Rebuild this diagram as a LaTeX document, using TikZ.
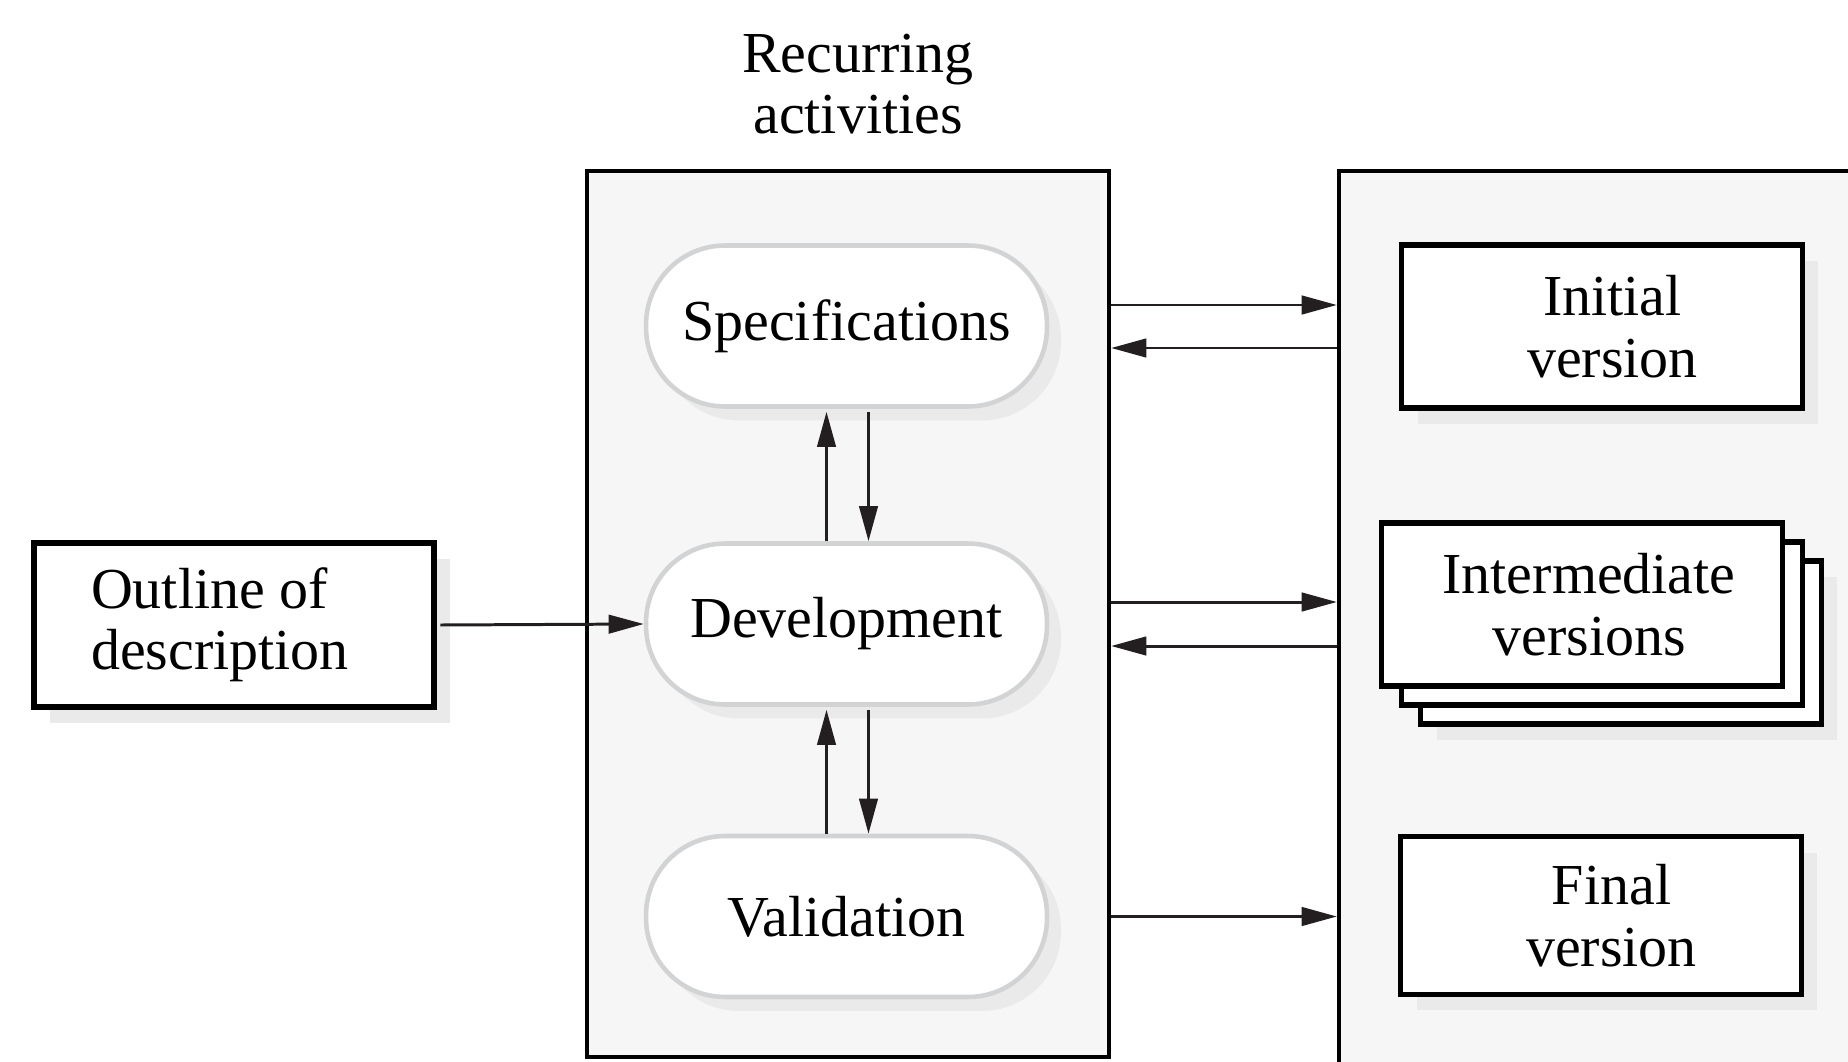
\documentclass[tikz,border=0pt]{standalone}
\usepackage{fontspec}
\setmainfont{Liberation Serif}
\usetikzlibrary{arrows.meta,calc,shadows}
\definecolor{panelfill}{HTML}{F6F6F6}
\definecolor{shade}{HTML}{EAEAEA}
\definecolor{pillline}{HTML}{D1D3D4}
\definecolor{ink}{HTML}{231F20}

\begin{document}
\begin{tikzpicture}[x=0.02cm,y=-0.02cm,
  font=\fontsize{33}{35}\selectfont,
  panel/.style={draw=black, line width=2.5pt, fill=panelfill, inner sep=0pt},
  softshadow/.style={drop shadow={shadow xshift=0.32cm, shadow yshift=-0.32cm, fill=shade, opacity=1}},
  boxnode/.style={draw=black, line width=3.3pt, fill=white, minimum width=8.02cm,
    minimum height=3.26cm, inner sep=0pt, align=center},
  pill/.style={draw=pillline, line width=2.6pt, fill=white, rounded corners=1.58cm,
    minimum width=8.02cm, minimum height=3.22cm, inner sep=0pt,
    drop shadow={shadow xshift=0.28cm, shadow yshift=-0.28cm, fill=shade, opacity=1}},
  arr/.style={draw=ink, line width=1.7pt, -{Triangle[length=20pt,width=10.5pt]}},
]
\useasboundingbox (0,0) rectangle (1848,1061);
\clip (0,0) rectangle (1848,1061);

% heading over the activity column
\node[align=center] (title) at (858,84) {Recurring\\activities};

% the two panels
\node[panel, minimum width=10.44cm, minimum height=17.72cm] (mid) at (848,614) {};
\node[panel, minimum width=11.22cm, minimum height=18.98cm] (out) at (1619.5,645.5) {};

% input
\node[boxnode, softshadow, minimum width=8cm, minimum height=3.28cm, align=left] (outline) at (234,625)
  {Outline of\\description\hspace*{16pt}};

% recurring activities
\node[pill] (spec) at (846.5,326) {Specifications};
\node[pill] (dev)  at (846.5,624) {Development};
\node[pill] (val)  at (846.5,916.5) {Validation};

% produced versions
\node[boxnode, softshadow] (init) at (1602,326.5) {\hspace*{12pt}Initial\\\hspace*{12pt}version};
\node[boxnode, softshadow] (inter3) at (1621,642.5) {};
\node[boxnode] (inter2) at (1602,623.5) {};
\node[boxnode] (inter) at (1582,604.5) {\hspace*{8pt}Intermediate\\\hspace*{8pt}versions};
\node[boxnode, softshadow, minimum height=3.16cm] (final) at (1601,915.5) {\hspace*{12pt}Final\\\hspace*{12pt}version};

% input flow
\draw[arr] ([xshift=2pt]outline.east) -- (dev.west);

% loops between the activities
\draw[arr] ($(dev.north)+(-20,0)$) -- ($(spec.south)+(-20,3)$);
\draw[arr] ($(spec.south)+(22,3)$) -- ($(dev.north)+(22,0)$);
\draw[arr] ($(val.north)+(-20,0)$) -- ($(dev.south)+(-20,3)$);
\draw[arr] ($(dev.south)+(22,3)$) -- ($(val.north)+(22,0)$);

% exchanges with the versions
\draw[arr] ($(mid.east |- spec.center)+(0,-21)$) -- ($(out.west |- spec.center)+(0,-21)$);
\draw[arr] ($(out.west |- spec.center)+(0,22)$) -- ($(mid.east |- spec.center)+(0,22)$);
\draw[arr] ($(mid.east |- dev.center)+(0,-22)$) -- ($(out.west |- dev.center)+(0,-22)$);
\draw[arr] ($(out.west |- dev.center)+(0,22)$) -- ($(mid.east |- dev.center)+(0,22)$);
\draw[arr] (mid.east |- val.center) -- (out.west |- val.center);
\end{tikzpicture}
\end{document}
